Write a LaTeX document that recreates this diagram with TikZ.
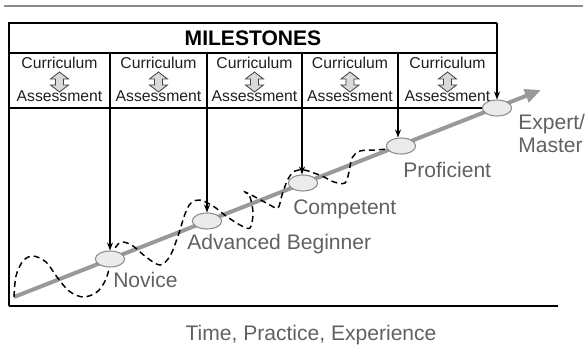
\documentclass[tikz,border=0pt]{standalone}
\usepackage{fontspec}
\setmainfont{Liberation Sans}
\usetikzlibrary{arrows.meta,shapes.geometric}

\begin{document}
\begin{tikzpicture}[x=0.75pt,y=0.75pt,yscale=-1,xscale=1,
  stage/.style={ellipse,draw=black!45,fill=black!8,line width=0.8pt,minimum width=22pt,minimum height=12pt,inner sep=0pt},
  lbl/.style={anchor=base west,inner sep=0pt,text=black!62,font=\fontsize{15.8}{17.3}\selectfont},
  cell/.style={anchor=base,inner sep=0pt,text=black!88,font=\fontsize{11.8}{13}\selectfont},
  drop/.style={-{Stealth[length=6pt,width=4.5pt]},line width=0.9pt},
  updown/.style={fill=black!15,draw=black!75,line width=0.6pt}]
\useasboundingbox (0,0) rectangle (586,346);

%Top rule
\draw[black!45,line width=2pt] (4,6) -- (583,6);

%Table and frame
\draw[line width=1pt] (9,306) -- (9,23) -- (497,23);
\draw[line width=1pt] (9,53) -- (497,53);
\draw[line width=1pt] (9,108) -- (497,108);
\draw[line width=1pt] (9,306) -- (558,306);

% Text Node
\node[anchor=base,inner sep=0pt,font=\fontsize{15.8}{18}\selectfont\bfseries] (title) at (253,45.5) {MILESTONES};

%Cells
\foreach \cx [count=\i] in {59.5,158.5,254.5,350,447.5} {
  \node[cell] (cur\i) at (\cx,68.5) {Curriculum};
  \node[cell] (ass\i) at (\cx,101.6) {Assessment};
  \draw[updown] (\cx,72) -- ++(9,7) -- ++(-5,0) -- ++(0,6) -- ++(5,0) -- ++(-9,7)
    -- ++(-9,-7) -- ++(5,0) -- ++(0,-6) -- ++(-5,0) -- cycle;
}

%Progress line
\coordinate (start) at (14,297);
\coordinate (tip) at (541,90);
\draw[black!40,line width=3pt,-{Triangle[length=12pt,width=10pt]}] (start) -- (tip);

%Wavy path
\draw[dashed,dash pattern=on 4.5pt off 3pt,line width=1.1pt] plot[smooth,tension=0.55] coordinates {
  (14,297) (16,276) (23,261) (33,256) (46,262) (57,277) (69,291) (83,297) (97,292)
  (106,279) (111,261) (115,248) (122,242) (133,246) (146,257) (160,265) (170,256)
  (178,236) (185,214) (191,203) (200,200) (213,206) (226,216) (240,225) (250,228)
  (253,213) (250,197) (245,192) (257,198) (270,205) (278,208) (282,195) (288,179)
  (295,171) (304,170) (314,173) (324,177) (334,182) (345,183) (349,172) (352,158)
  (360,151) (375,150) (388,149)};

%Stages
\node[stage] (nov) at (110,259) {};
\node[stage] (adv) at (207,221) {};
\node[stage] (com) at (303,183) {};
\node[stage] (pro) at (401,146) {};
\node[stage] (exp) at (497,108) {};

%Milestone arrows
\coordinate (d1) at (110,53);
\coordinate (d2) at (207,53);
\coordinate (d3) at (302,53);
\coordinate (d4) at (398,53);
\coordinate (d5) at (497,23);
\draw[drop] (d1) -- (d1 |- nov.north);
\draw[drop] (d2) -- (d2 |- adv.north);
\draw[drop] (d3) -- (d3 |- com.north);
\draw[drop] (d4) -- (d4 |- pro.north);
\draw[drop] (d5) -- (d5 |- exp.north);

% Text Node
\node[lbl] (novt) at (113,287.5) {Novice};
\node[lbl] (advt) at (187,249.5) {Advanced Beginner};
\node[lbl] (comt) at (293,214.5) {Competent};
\node[lbl] (prot) at (403,177.5) {Proficient};
\node[lbl] (expt) at (518,129.5) {Expert/};
\node[lbl] (mast) at (518,152.5) {Master};
\node[lbl,anchor=base] (axis) at (311,340) {Time, Practice, Experience};

\end{tikzpicture}
\end{document}
